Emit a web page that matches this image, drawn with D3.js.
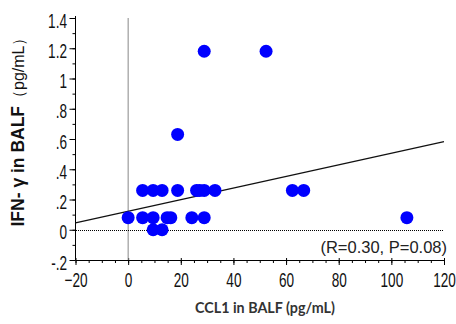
<!DOCTYPE html>
<html>
<head>
<meta charset="utf-8">
<script src="https://d3js.org/d3.v7.min.js"></script>
<style>
  body { margin: 0; background: #fff; }
  svg { display: block; }
</style>
</head>
<body>
<div id="chart"></div>
<script>
// values
const ccl1 = [0, 5.5, 9.5, 14.8, 16.2, 24.2, 28.9, 105.9,
  5.5, 9.5, 12.9, 18.8, 26.0, 27.2, 28.9, 33.0, 62.4, 66.7,
  9.5, 12.9,
  18.8,
  28.9, 52.4];
const ifn = [0.08, 0.08, 0.08, 0.08, 0.08, 0.08, 0.08, 0.08,
  0.26, 0.26, 0.26, 0.26, 0.26, 0.26, 0.26, 0.26, 0.26, 0.26,
  0, 0,
  0.63,
  1.18, 1.18];
const fitX = [-20, 120];
const fitY = [0.045, 0.582];
const xTicks = [-20, 0, 20, 40, 60, 80, 100, 120];
const yTicks = [-0.2, 0, 0.2, 0.4, 0.6, 0.8, 1, 1.2, 1.4];
const yTickLabels = ["-.2", "0", ".2", ".4", ".6", ".8", "1", "1.2", "1.4"];
const statsLabel = "(R=0.30, P=0.08)";

const width = 456, height = 324;
const sx = 0.68; // narrow tick font

const svg = d3.select("#chart").append("svg")
  .attr("width", width)
  .attr("height", height);

const x = d3.scaleLinear().domain([-20, 120]).range([75.5, 444]);
const y = d3.scaleLinear().domain([-0.2, 1.4]).range([260, 18]);

// minor ticks
svg.append("g")
  .attr("transform", "translate(0,260)")
  .call(d3.axisBottom(x).tickValues(d3.range(-20, 121, 5)).tickSize(3).tickFormat(""))
  .call(g => g.select(".domain").remove());
svg.append("g")
  .attr("transform", "translate(75.5,0)")
  .call(d3.axisLeft(y).tickValues(d3.range(-2, 15).map(d => d / 10)).tickSize(3).tickFormat(""))
  .call(g => g.select(".domain").remove());

// x axis
const xAxis = svg.append("g")
  .attr("transform", "translate(0,260)")
  .call(d3.axisBottom(x).tickValues(xTicks).tickSize(5).tickSizeOuter(0).tickPadding(8));
xAxis.selectAll(".tick line").attr("y1", -2);
xAxis.selectAll("text")
  .attr("font-family", "Liberation Sans, Arial, sans-serif")
  .attr("font-size", 20)
  .attr("fill", "#111")
  .attr("transform", `scale(${sx},1)`);

// y axis
const yAxis = svg.append("g")
  .attr("transform", "translate(75.5,0)")
  .call(d3.axisLeft(y).tickValues(yTicks).tickSize(6).tickSizeOuter(0)
    .tickFormat((d, i) => yTickLabels[i]));
yAxis.select(".domain").attr("d", "M0,16V260");
yAxis.selectAll("text")
  .attr("font-family", "Liberation Sans, Arial, sans-serif")
  .attr("font-size", 20)
  .attr("fill", "#111")
  .attr("x", -8.5 / sx)
  .attr("dy", "0.45em")
  .attr("transform", `scale(${sx},1)`);

// reference lines
svg.append("line")
  .attr("x1", x(0)).attr("x2", x(0))
  .attr("y1", y(1.4)).attr("y2", y(-0.2))
  .attr("stroke", "#888").attr("stroke-width", 1);
svg.append("line")
  .attr("x1", x(-20)).attr("x2", x(120))
  .attr("y1", Math.round(y(0)) + 0.5).attr("y2", Math.round(y(0)) + 0.5)
  .attr("stroke", "#000").attr("stroke-width", 1)
  .attr("shape-rendering", "crispEdges")
  .attr("stroke-dasharray", "1,1");

// regression line
svg.append("line")
  .attr("x1", x(fitX[0])).attr("y1", y(fitY[0]))
  .attr("x2", x(fitX[1])).attr("y2", y(fitY[1]))
  .attr("stroke", "#111").attr("stroke-width", 1.3);

// points
svg.append("g")
  .selectAll("circle")
  .data(ccl1.map((d, i) => [d, ifn[i]]))
  .join("circle")
  .attr("cx", d => x(d[0]))
  .attr("cy", d => y(d[1]))
  .attr("r", 6.5)
  .attr("fill", "#0000ff");

// stats
svg.append("text")
  .attr("x", 447).attr("y", 253)
  .attr("text-anchor", "end")
  .attr("font-family", "Liberation Sans, Arial, sans-serif")
  .attr("font-size", 16.5)
  .attr("fill", "#222")
  .text(statsLabel);

// axis titles
svg.append("text")
  .attr("x", 265).attr("y", 313)
  .attr("text-anchor", "middle")
  .attr("font-family", "Lato, sans-serif")
  .attr("font-weight", "bold")
  .attr("font-size", 14.3)
  .attr("fill", "#333")
  .text("CCL1 in BALF (pg/mL)");

const yt = svg.append("text")
  .attr("transform", "translate(24,128) rotate(-90)")
  .attr("text-anchor", "middle")
  .attr("font-family", "Liberation Sans, Arial, sans-serif")
  .attr("font-size", 17.5)
  .attr("fill", "#111");
yt.append("tspan").attr("font-weight", "bold").text("IFN- γ in BALF");
yt.append("tspan").attr("font-size", 16).text("（pg/mL）");
</script>
</body>
</html>
